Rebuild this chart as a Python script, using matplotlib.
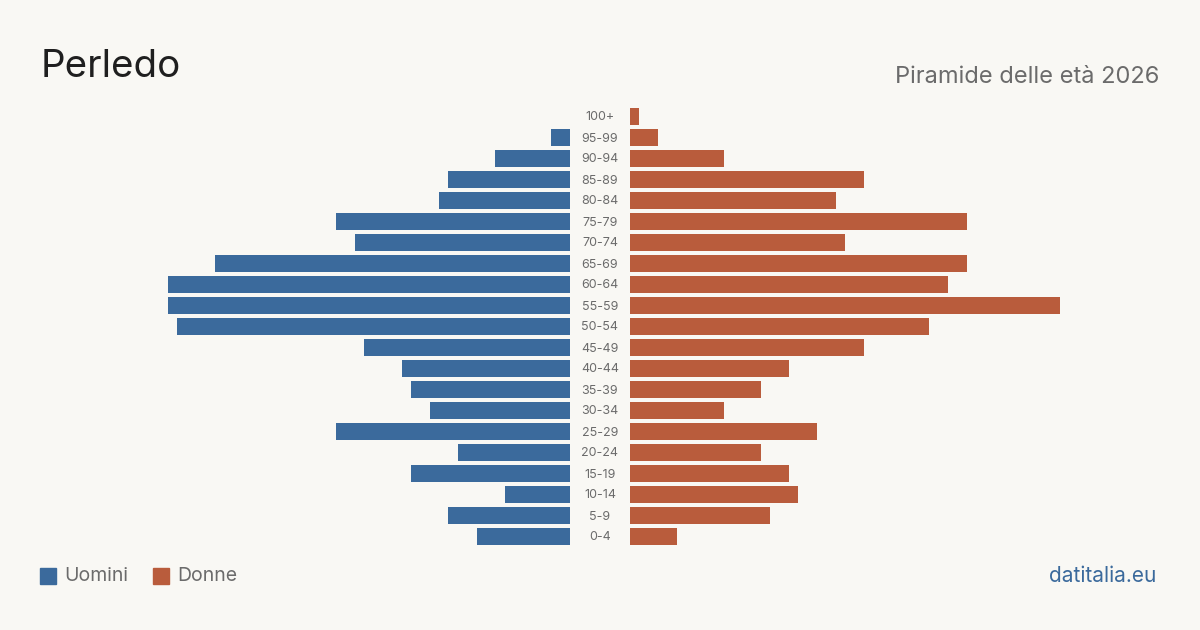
import matplotlib.pyplot as plt
from matplotlib.patches import Rectangle

age_groups = ["0-4", "5-9", "10-14", "15-19", "20-24", "25-29", "30-34", "35-39",
              "40-44", "45-49", "50-54", "55-59", "60-64", "65-69", "70-74", "75-79",
              "80-84", "85-89", "90-94", "95-99", "100+"]
men = [10, 13, 7, 17, 12, 25, 15, 17, 18, 22, 42, 43, 43, 38, 23, 25, 14, 13, 8, 2, 0]
women = [5, 15, 18, 17, 14, 20, 10, 14, 17, 25, 32, 46, 34, 36, 23, 36, 22, 25, 10, 3, 1]

BG = "#f9f8f4"
BLUE = "#3b6a9c"
ORANGE = "#b95c3c"
GRAY = "#6b6b6b"

plt.rcParams['font.family'] = ['Inter', 'DejaVu Sans']

W, H = 1200, 630
fig = plt.figure(figsize=(W / 100, H / 100), dpi=100, facecolor=BG)

px_per_unit = 9.35
ax_w_px = 470
xmax = ax_w_px / px_per_unit
bottom = (H - 547) / H
height = (547 - 106) / H

axL = fig.add_axes([(570 - ax_w_px) / W, bottom, ax_w_px / W, height])
axR = fig.add_axes([630 / W, bottom, ax_w_px / W, height])
ypos = list(range(len(age_groups)))
for ax, vals, col in ((axL, men, BLUE), (axR, women, ORANGE)):
    ax.barh(ypos, vals, height=0.81, color=col)
    ax.set_xlim(0, xmax)
    ax.set_ylim(-0.5, len(age_groups) - 0.5)
    ax.axis('off')
    ax.set_facecolor('none')
axL.invert_xaxis()

# age labels in the centre
for i, lab in enumerate(age_groups):
    y_px = 537.5 - i * 21
    fig.text(600 / W, 1 - y_px / H, lab, ha='center', va='center', fontsize=9, color=GRAY)

fig.text(41 / W, 1 - 67 / H, "Perledo", ha='left', va='center', fontsize=27.7, color="#1f1f1f")
fig.text(1159 / W, 1 - 77 / H, "Piramide delle età 2026", ha='right', va='center', fontsize=17, color=GRAY)

# legend
for x0, col, lab in ((40, BLUE, "Uomini"), (153, ORANGE, "Donne")):
    fig.patches.append(Rectangle((x0 / W, 1 - 584 / H), 16 / W, 16 / H,
                                 transform=fig.transFigure, color=col))
    fig.text((x0 + 24) / W, 1 - 576 / H, lab, ha='left', va='center', fontsize=14, color=GRAY)

fig.text(1156 / W, 1 - 576 / H, "datitalia.eu", ha='right', va='center', fontsize=15, color=BLUE)

fig.savefig("out.png", dpi=100, facecolor=BG)
